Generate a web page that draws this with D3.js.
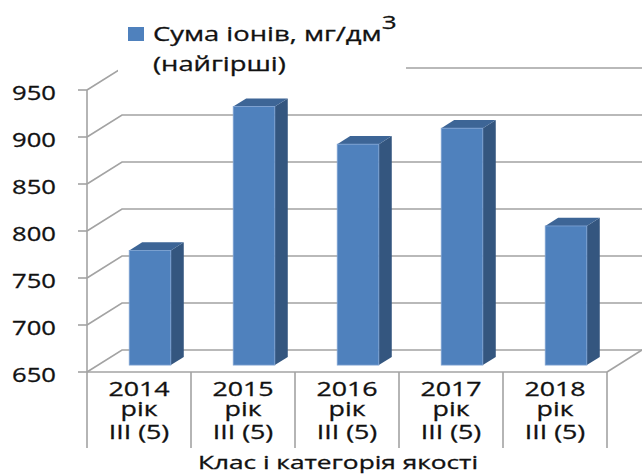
<!DOCTYPE html>
<html>
<head>
<meta charset="utf-8">
<script src="https://cdn.jsdelivr.net/npm/d3@7/dist/d3.min.js"></script>
<style>
  html, body { margin: 0; padding: 0; background: #fff; }
  svg { display: block; }
  text { font-family: "Open Sans", "Noto Sans", sans-serif; fill: #111; stroke: #111; stroke-width: 0.3; }
</style>
</head>
<body>
<svg id="chart" width="642" height="475"></svg>
<script>
// Data
const years = ["2014", "2015", "2016", "2017", "2018"];
const yearWord = "рік";
const qualityClass = ["III (5)", "III (5)", "III (5)", "III (5)", "III (5)"];
const ionSum = [772, 925, 885, 902, 798];
const yTicks = [650, 700, 750, 800, 850, 900, 950];
const seriesName = "Сума іонів, мг/дм";
const seriesSup = "3";
const seriesNote = "(найгірші)";
const axisTitle = "Клас і категорія якості";

(function () {
const svg = d3.select("#chart");

// Front plane of the plot area and the 3-D depth offset
const plotLeft = 87, plotRight = 607, plotTop = 90, plotBottom = 372;
const depthX = 35, depthY = -22;
const barNear = 0.315, barFar = 0.685;

const y = d3.scaleLinear().domain([650, 950]).range([plotBottom, plotTop]);
const xCat = d3.scaleBand().domain(years).range([plotLeft, plotRight]).padding(0);
const xBar = d3.scaleBand().domain(years).range([plotLeft, plotRight])
  .paddingInner(0.6).paddingOuter(0.3);

const gridColor = "#a3a3a3";
const gridW = 1.6;

// horizontally widened text helper
function label(g, x, yPos, str, size, stretch, anchor) {
  return g.append("g").attr("transform", `translate(${x},${yPos}) scale(${stretch},1)`)
    .append("text")
    .attr("font-size", size)
    .attr("text-anchor", anchor || "middle")
    .text(str);
}

// Walls: left side gridline diagonals and back wall gridlines
const grid = svg.append("g").attr("fill", "none").attr("stroke", gridColor).attr("stroke-width", gridW);
yTicks.forEach(v => {
  const yy = y(v);
  const pts = [[plotLeft, yy], [plotLeft + depthX, yy + depthY], [plotRight + depthX, yy + depthY]];
  grid.append("path").attr("d", d3.line()(pts));
});
// floor right edge
grid.append("path").attr("d", d3.line()([[plotRight, plotBottom], [plotRight + depthX, plotBottom + depthY]]));

// Front axis lines
const axes = svg.append("g").attr("stroke", gridColor).attr("stroke-width", gridW).attr("fill", "none");
axes.append("path").attr("d", d3.line()([[plotLeft, plotTop], [plotLeft, plotBottom]]));
axes.append("path").attr("d", d3.line()([[plotLeft, plotBottom], [plotRight, plotBottom]]));
yTicks.forEach(v => {
  axes.append("path").attr("d", d3.line()([[plotLeft - 9, y(v)], [plotLeft, y(v)]]));
});
// category separators
years.concat([null]).forEach(c => {
  const xx = c === null ? plotRight : xCat(c);
  axes.append("path").attr("d", d3.line()([[xx, plotBottom], [xx, 448]]));
});

// Bars
const bars = svg.append("g");
years.forEach((c, i) => {
  const v = ionSum[i];
  const x0 = xBar(c) + depthX * barNear;
  const x1 = x0 + xBar.bandwidth();
  const yb = y(650) + depthY * barNear;
  const yt = y(v) + depthY * barNear;
  const ddx = depthX * (barFar - barNear);
  const ddy = depthY * (barFar - barNear);
  // side
  bars.append("path")
    .attr("d", d3.line()([[x1, yt], [x1 + ddx, yt + ddy], [x1 + ddx, yb + ddy], [x1, yb]]) + "Z")
    .attr("fill", "#34567f");
  // top
  bars.append("path")
    .attr("d", d3.line()([[x0, yt], [x0 + ddx, yt + ddy], [x1 + ddx, yt + ddy], [x1, yt]]) + "Z")
    .attr("fill", "#3d6596");
  // front
  bars.append("rect")
    .attr("x", x0).attr("y", yt)
    .attr("width", x1 - x0).attr("height", yb - yt)
    .attr("fill", "#4f81bd")
    .attr("stroke", "#7fa3d3").attr("stroke-width", 0.8);
});

// Y tick labels
const yl = svg.append("g");
yTicks.forEach(v => {
  label(yl, 56, y(v) + 10, String(v), 20, 1.28, "end");
});

// Category labels: three wrapped lines per category
const xl = svg.append("g");
years.forEach((c, i) => {
  const cx = xCat(c) + xCat.bandwidth() / 2;
  const t = label(xl, cx, 396, null, 20, 1.34);
  t.append("tspan").attr("x", 0).attr("dy", 0).text(c);
  t.append("tspan").attr("x", 0).attr("dy", 20).text(yearWord);
  t.append("tspan").attr("x", 0).attr("dy", 23).text(qualityClass[i]);
});

// Axis title
label(svg, 338, 469, axisTitle, 17.5, 1.5);

// Legend
const lg = svg.append("g");
lg.append("rect").attr("x", 118).attr("y", 8).attr("width", 288).attr("height", 78).attr("fill", "#fff");
lg.append("rect").attr("x", 128).attr("y", 27).attr("width", 16).attr("height", 14).attr("fill", "#4f81bd");
const lt = label(lg, 153, 41, seriesName, 20, 1.37, "start");
lt.append("tspan").attr("dy", -12).attr("font-size", 19).text(seriesSup);
label(lg, 153, 71, seriesNote, 20, 1.37, "start");
})();
</script>
</body>
</html>
